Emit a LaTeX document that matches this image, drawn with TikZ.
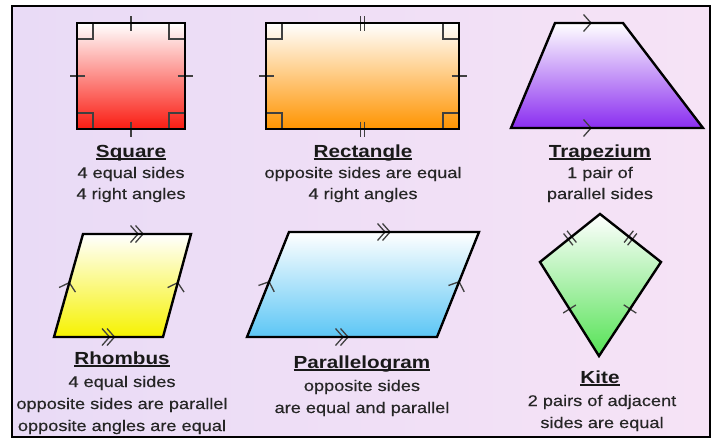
\documentclass[tikz,border=0pt]{standalone}
\usepackage{fontspec}
\newfontfamily\lblfont[FakeStretch=1.18]{Liberation Sans}
\newfontfamily\txtfont[FakeStretch=1.18,FakeBold=0.4]{Liberation Sans}
\usetikzlibrary{calc,decorations.markings}
\definecolor{bgleft}{RGB}{233,219,246}
\definecolor{bgright}{RGB}{246,227,246}
\definecolor{sqcol}{RGB}{250,28,18}
\definecolor{rectcol}{RGB}{255,148,0}
\definecolor{trapcol}{RGB}{138,45,240}
\definecolor{rhcol}{RGB}{246,242,0}
\definecolor{parcol}{RGB}{92,198,245}
\definecolor{kitecol}{RGB}{85,226,85}
\newcommand\ulname[1]{\setbox0=\hbox{#1}\rlap{\rule[-3.2pt]{\wd0}{1.8pt}}\box0}
\tikzset{
  edgeline/.style={draw=black, line width=2.4pt, line join=miter},
  markpen/.style={draw=black!75, line width=1.3pt},
  tickone/.style={postaction={decorate,decoration={markings,
      mark=at position 0.5 with {\draw[markpen] (0,-7.5pt) -- (0,7.5pt);}}}},
  ticktwo/.style={postaction={decorate,decoration={markings,
      mark=at position 0.5 with {\draw[markpen] (-2.2pt,-7.5pt) -- (-2.2pt,7.5pt) (2.2pt,-7.5pt) -- (2.2pt,7.5pt);}}}},
  chevone/.style={postaction={decorate,decoration={markings,
      mark=at position 0.5 with {\draw[markpen] (-4.5pt,-8.5pt) -- (3pt,0pt) -- (-4.5pt,8.5pt);}}}},
  chevtwo/.style={postaction={decorate,decoration={markings,
      mark=at position 0.5 with {\draw[markpen] (-6.5pt,-8.5pt) -- (1pt,0pt) -- (-6.5pt,8.5pt) (-1.5pt,-8.5pt) -- (6pt,0pt) -- (-1.5pt,8.5pt);}}}},
  ttl/.style={font=\lblfont\bfseries\fontsize{17.5}{20}\selectfont, text=black!90, anchor=base, inner sep=0pt},
  txt/.style={font=\txtfont\fontsize{15.4}{18}\selectfont, text=black!85, anchor=base, inner sep=0pt}
}
\begin{document}
\begin{tikzpicture}[x=1pt, y=-1pt]
    \useasboundingbox (0,0) rectangle (718,439);
    \fill[left color=bgleft, right color=bgright] (12,6) rectangle (710,437);
    \draw[line width=2.6pt] (12,6) rectangle (710,437);
    % square
    \coordinate (sqA) at (77,23);
    \coordinate (sqB) at (185,23);
    \coordinate (sqC) at (185,129);
    \coordinate (sqD) at (77,129);
    \fill[top color=white, bottom color=sqcol] (sqA) -- (sqB) -- (sqC) -- (sqD) -- cycle;
    \foreach \c/\dx/\dy in {sqA/16/16, sqB/-16/16, sqC/-16/-16, sqD/16/-16}
        \draw[markpen] (\c) ++(\dx,0) -- ++(0,\dy) -- ++(-\dx,0);
    \path[tickone] (sqA) -- (sqB);
    \path[tickone] (sqB) -- (sqC);
    \path[tickone] (sqC) -- (sqD);
    \path[tickone] (sqD) -- (sqA);
    \draw[edgeline] (sqA) -- (sqB) -- (sqC) -- (sqD) -- cycle;
    % rectangle
    \coordinate (reA) at (266,23);
    \coordinate (reB) at (459,23);
    \coordinate (reC) at (459,129);
    \coordinate (reD) at (266,129);
    \fill[top color=white, bottom color=rectcol] (reA) -- (reB) -- (reC) -- (reD) -- cycle;
    \foreach \c/\dx/\dy in {reA/16/16, reB/-16/16, reC/-16/-16, reD/16/-16}
        \draw[markpen] (\c) ++(\dx,0) -- ++(0,\dy) -- ++(-\dx,0);
    \path[ticktwo] (reA) -- (reB);
    \path[tickone] (reB) -- (reC);
    \path[ticktwo] (reC) -- (reD);
    \path[tickone] (reD) -- (reA);
    \draw[edgeline] (reA) -- (reB) -- (reC) -- (reD) -- cycle;
    % trapezium
    \coordinate (trA) at (555,23);
    \coordinate (trB) at (623,23);
    \coordinate (trC) at (703,128);
    \coordinate (trD) at (511,128);
    \fill[top color=white, bottom color=trapcol] (trA) -- (trB) -- (trC) -- (trD) -- cycle;
    \path[chevone] (555,23) -- (621,23);
    \path[chevone] (491,128) -- (685,128);
    \draw[edgeline] (trA) -- (trB) -- (trC) -- (trD) -- cycle;
    % rhombus
    \coordinate (rhA) at (83,234);
    \coordinate (rhB) at (191,234);
    \coordinate (rhC) at (163,337);
    \coordinate (rhD) at (54,337);
    \fill[top color=white, bottom color=rhcol] (rhA) -- (rhB) -- (rhC) -- (rhD) -- cycle;
    \path[chevtwo] (rhA) -- (rhB);
    \path[chevtwo] (rhD) -- (rhC);
    \path[chevone] (rhD) -- (rhA);
    \path[chevone] (rhC) -- (rhB);
    \draw[edgeline] (rhA) -- (rhB) -- (rhC) -- (rhD) -- cycle;
    % parallelogram
    \coordinate (paA) at (289,232);
    \coordinate (paB) at (479,232);
    \coordinate (paC) at (437,337);
    \coordinate (paD) at (247,337);
    \fill[top color=white, bottom color=parcol] (paA) -- (paB) -- (paC) -- (paD) -- cycle;
    \path[chevtwo] (paA) -- (paB);
    \path[chevtwo] (paD) -- (paC);
    \path[chevone] (paD) -- (paA);
    \path[chevone] (paC) -- (paB);
    \draw[edgeline] (paA) -- (paB) -- (paC) -- (paD) -- cycle;
    % kite
    \coordinate (kiA) at (600,214);
    \coordinate (kiB) at (661,262);
    \coordinate (kiC) at (599,356);
    \coordinate (kiD) at (540,262);
    \fill[top color=white, bottom color=kitecol] (kiA) -- (kiB) -- (kiC) -- (kiD) -- cycle;
    \path[ticktwo] (kiA) -- (kiB);
    \path[ticktwo] (kiD) -- (kiA);
    \path[tickone] (kiB) -- (kiC);
    \path[tickone] (kiC) -- (kiD);
    \draw[edgeline] (kiA) -- (kiB) -- (kiC) -- (kiD) -- cycle;
    % labels
    \node[ttl] (sqT) at (131,157) {\ulname{Square}};
    \node[txt] (sqL1) at (131,178) {4 equal sides};
    \node[txt] (sqL2) at (131,199) {4 right angles};
    \node[ttl] (reT) at (363,157) {\ulname{Rectangle}};
    \node[txt] (reL1) at (363,178) {opposite sides are equal};
    \node[txt] (reL2) at (363,199) {4 right angles};
    \node[ttl] (trT) at (600,157) {\ulname{Trapezium}};
    \node[txt] (trL1) at (600,178) {1 pair of};
    \node[txt] (trL2) at (600,199) {parallel sides};
    \node[ttl] (rhT) at (122,364) {\ulname{Rhombus}};
    \node[txt] (rhL1) at (122,387) {4 equal sides};
    \node[txt] (rhL2) at (122,409) {opposite sides are parallel};
    \node[txt] (rhL3) at (122,431) {opposite angles are equal};
    \node[ttl] (paT) at (362,368) {\ulname{Parallelogram}};
    \node[txt] (paL1) at (362,391) {opposite sides};
    \node[txt] (paL2) at (362,413) {are equal and parallel};
    \node[ttl] (kiT) at (600,383) {\ulname{Kite}};
    \node[txt] (kiL1) at (602,406) {2 pairs of adjacent};
    \node[txt] (kiL2) at (602,428) {sides are equal};
\end{tikzpicture}
\end{document}
